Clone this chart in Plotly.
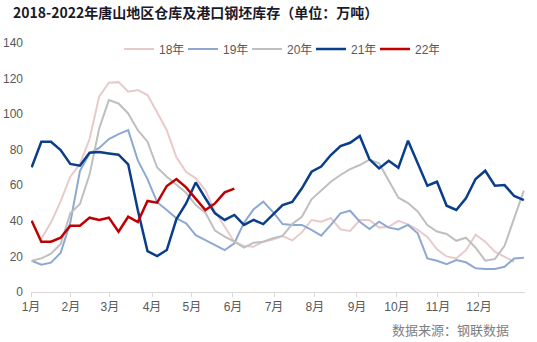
import plotly.graph_objects as go

# weekly index (52 weeks per year, common x grid)
weeks = list(range(52))

# month tick positions (in week units) and labels
month_ticks = [-0.07, 4.07, 8.11, 12.47, 16.6, 20.86, 25.11, 29.35, 33.71, 37.85, 42.1, 46.35]
month_labels = ["1月", "2月", "3月", "4月", "5月", "6月", "7月", "8月", "9月", "10月", "11月", "12月"]

series_names = ["18年", "19年", "20年", "21年", "22年"]

s18 = [None, 30, 39, 51, 64.8, 72, 86, 110, 117.7, 118,
       112.6, 113.5, 110.7, 101, 91, 75.7, 67.6, 63.9, 57.3, 45.2,
       36.7, 28.3, 25.9, 25.5, 28.3, 29.5, 31.5, 29, 33.5, 40.5,
       39.5, 41.6, 35.2, 34.3, 40.5, 40.5, 36.2, 36.7, 40, 38,
       35, 31, 24, 20, 18.9, 23.5, 32.2, 28.3, 22.7, 19.9,
       17, None]

s19 = [17.6, 15.4, 16.5, 22, 39, 68, 78, 81, 86, 88.8,
       91, 74, 63.5, 50.5, 46.1, 41.4, 38.6, 32, 29.2, 26.4,
       23.6, 27.4, 39, 46.5, 50.8, 45, 38.2, 37.7, 37.7, 34.9,
       31.7, 37.7, 44.2, 45.7, 39.5, 35.4, 39.5, 36.2, 35.2, 37.7,
       33, 18.9, 17.6, 15.7, 18, 16.7, 13.3, 12.9, 12.9, 14.2,
       18.9, 19.3]

s20 = [17.6, 18.9, 21.5, 27, 44.2, 49.5, 66, 92, 107.9, 106,
       100.4, 91, 84.5, 70, 64.8, 60.1, 55.8, 48.9, 44.6, 34.5,
       31.1, 28.3, 24.9, 27.7, 28.3, 30.2, 31.5, 38.2, 42.3, 52.1,
       57.3, 62, 65.8, 69.1, 71.4, 74.4, 72.3, 63, 53, 50,
       45.3, 37.6, 34, 32.6, 28.8, 30.5, 25, 17.6, 18.5, 26,
       41.4, 57]

s21 = [70.1, 84.5, 84.5, 79.8, 72, 71, 78.3, 78.7, 77.9, 77.2,
       71.8, 46, 23, 20.2, 23.6, 41, 49.8, 61.6, 52.7, 44.2,
       40.5, 43.3, 37.7, 40.5, 38.2, 43.7, 48.9, 50.6, 58.3, 67.6,
       70.5, 77, 82.1, 83.9, 87.7, 74.6, 69.5, 73.8, 69.9, 85.1,
       72.3, 59.8, 62, 48.5, 46.1, 52.7, 63.5, 68.2, 59.8, 60.1,
       54, 51.7]

s22 = [40.1, 28.3, 28.3, 30.5, 37.3, 37.3, 41.8, 40.5, 41.8, 33.9,
       42.3, 39.3, 51.2, 50.2, 59.6, 63.5, 58.8, 52.7, 46.1, 49.8,
       56, 58.1]

colors = ["#E8CACA", "#8EA9D1", "#BFBFBF", "#0A3D8A", "#C00000"]
widths = [2, 2, 2, 2.5, 2.5]

FONT = "Liberation Sans, Noto Sans CJK SC, sans-serif"
CJK = "Noto Sans CJK SC, sans-serif"

fig = go.Figure()
for name, vals, c, w in zip(series_names, [s18, s19, s20, s21, s22], colors, widths):
    fig.add_trace(go.Scatter(
        x=weeks[:len(vals)], y=vals, mode="lines", name=name,
        line=dict(color=c, width=w), connectgaps=False, hoverinfo="skip"))

fig.update_layout(
    width=537, height=342,
    margin=dict(l=31, r=12, t=43, b=50, autoexpand=False),
    paper_bgcolor="white", plot_bgcolor="white",
    font=dict(family=FONT, size=12, color="#595959"),
    title=dict(text="<b>2018-2022年唐山地区仓库及港口钢坯库存（单位：万吨）</b>",
               x=13/537, xanchor="left", xref="container",
               y=1 - 13/342, yanchor="middle", yref="container",
               font=dict(family=CJK, size=14, color="#1A1A2A")),
    legend=dict(orientation="h", x=119/537, xanchor="left", xref="container",
                y=1 - 49/342, yanchor="middle", yref="container",
                font=dict(family=FONT, size=12, color="#595959"),
                entrywidth=19, entrywidthmode="pixels",
                bgcolor="rgba(0,0,0,0)"),
    showlegend=True,
)

fig.update_xaxes(range=[-0.07, 51.12], tickmode="array", tickvals=month_ticks,
                 ticktext=month_labels, showline=True, linecolor="#D9D9D9", linewidth=1,
                 ticks="outside", ticklen=4, tickcolor="#D9D9D9",
                 showgrid=False, zeroline=False, automargin=False,
                 tickfont=dict(family=FONT, size=12, color="#595959"))
fig.update_yaxes(range=[0, 140], dtick=20, showgrid=False, zeroline=False,
                 showline=False, ticks="", ticklabelstandoff=7, automargin=False,
                 tickfont=dict(family=FONT, size=12, color="#595959"))

fig.add_annotation(text="数据来源：钢联数据", xref="paper", yref="paper",
                   x=(511 - 31) / 494, y=(292 - 329) / 249,
                   xanchor="right", yanchor="middle", showarrow=False,
                   font=dict(family=CJK, size=13, color="#7F7F7F"))

fig.write_html("out.html", config={"displayModeBar": False})
